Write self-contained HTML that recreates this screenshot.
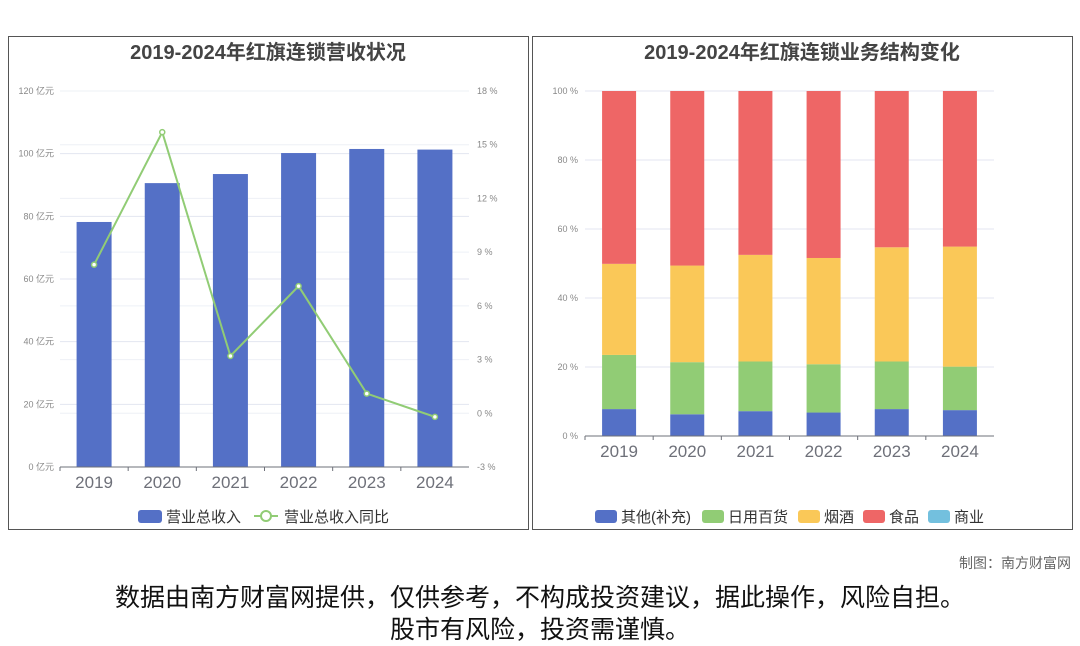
<!DOCTYPE html>
<html><head><meta charset="utf-8"><style>
body{margin:0;background:#fff;width:1080px;height:646px;overflow:hidden;font-family:"Liberation Sans","Noto Sans CJK SC",sans-serif}
svg{position:absolute;left:0;top:0}
.t{font-family:"Liberation Sans","Noto Sans CJK SC",sans-serif}
</style></head><body>
<svg id="s" width="1080" height="646">
<rect x="8.5" y="36.5" width="520" height="493" fill="none" stroke="#555"/>
<rect x="532.5" y="36.5" width="540" height="493" fill="none" stroke="#555"/>
<text class="t" x="268" y="59" text-anchor="middle" font-size="20" font-weight="bold" fill="#444">2019-2024年红旗连锁营收状况</text>
<text class="t" x="802" y="59" text-anchor="middle" font-size="20" font-weight="bold" fill="#444">2019-2024年红旗连锁业务结构变化</text>
<text class="t" x="1071" y="568" text-anchor="end" font-size="14" fill="#666">制图：南方财富网</text>
<text class="t" x="540" y="606" text-anchor="middle" font-size="25" fill="#111">数据由南方财富网提供，仅供参考，不构成投资建议，据此操作，风险自担。</text>
<text class="t" x="540" y="638" text-anchor="middle" font-size="25" fill="#111">股市有风险，投资需谨慎。</text>
<g id="L"></g><g id="R"></g>
</svg>
<script>
const years=['2019','2020','2021','2022','2023','2024'];
const revenue=[78.2,90.6,93.5,100.2,101.5,101.3];
const growth=[8.3,15.7,3.2,7.1,1.1,-0.2];
const leftTicks=[0,20,40,60,80,100,120];
const rightTicks=[-3,0,3,6,9,12,15,18];
const segOther=[7.8,6.3,7.2,6.8,7.8,7.5];
const segDaily=[15.7,15.1,14.4,14.0,13.8,12.6];
const segTobacco=[26.4,28.0,30.9,30.8,33.1,34.8];
const segFood=[50.1,50.6,47.5,48.4,45.3,45.1];
const segCommerce=[0,0,0,0,0,0];
const pctTicks=[0,20,40,60,80,100];
const NS='http://www.w3.org/2000/svg';
function mk(p,tag,a,txt){const e=document.createElementNS(NS,tag);for(const k in a)e.setAttribute(k,a[k]);if(txt!==undefined)e.textContent=txt;p.appendChild(e);return e;}
// Left chart
const L=document.getElementById('L');
const lx0=60,lx1=469,ly0=467,ly1=91;
const xb=i=>lx0+(i+0.5)*(lx1-lx0)/years.length;
const yL=v=>ly0-(v/120)*(ly0-ly1);
const yR=v=>ly0-((v+3)/21)*(ly0-ly1);
leftTicks.forEach(v=>{
 let g=mk(L,'line',{x1:lx0,x2:lx1,y1:yL(v),y2:yL(v),stroke:'#e3e6f0'});
 
 let t=mk(L,'text',{x:54,y:yL(v)+3,'text-anchor':'end','font-size':9,fill:'#888',class:'t'},v+' 亿元');
 
});
rightTicks.forEach(v=>{
 let g=mk(L,'line',{x1:lx0,x2:lx1,y1:yR(v),y2:yR(v),stroke:'#eef0f6'});
 
 let t=mk(L,'text',{x:477,y:yR(v)+3,'font-size':9,fill:'#888',class:'t'},v+' %');
 
});
const bw=35;
revenue.forEach((v,i)=>{
 let r=mk(L,'rect',{x:xb(i)-bw/2,y:yL(v),width:bw,height:ly0-yL(v),fill:'#5470c6'});
 
});
let ax=mk(L,'line',{x1:lx0,x2:lx1,y1:ly0,y2:ly0,stroke:'#6e7079'});

years.forEach((y,i)=>{
 let tk=mk(L,'line',{x1:lx0+i*(lx1-lx0)/6,x2:lx0+i*(lx1-lx0)/6,y1:ly0,y2:ly0+4,stroke:'#6e7079'});
 
 let t=mk(L,'text',{x:xb(i),y:488,'text-anchor':'middle','font-size':17,fill:'#6e7079',class:'t'},y);
 
});
let pl=mk(L,'polyline',{points:growth.map((v,i)=>xb(i)+','+yR(v)).join(' '),fill:'none',stroke:'#91cc75','stroke-width':2});

growth.forEach((v,i)=>{
 let c=mk(L,'circle',{cx:xb(i),cy:yR(v),r:2.5,fill:'#fff',stroke:'#91cc75','stroke-width':1.5});
 
});
let lg1=mk(L,'rect',{x:138,y:510,width:24,height:13,rx:3,fill:'#5470c6'});

let lt1=mk(L,'text',{x:166,y:522,'font-size':15,fill:'#333',class:'t'},'营业总收入');

let lg2=mk(L,'line',{x1:254,x2:278,y1:516,y2:516,stroke:'#91cc75','stroke-width':2});

let lg3=mk(L,'circle',{cx:266,cy:516,r:5,fill:'#fff',stroke:'#91cc75','stroke-width':2});

let lt2=mk(L,'text',{x:284,y:522,'font-size':15,fill:'#333',class:'t'},'营业总收入同比');

// Right chart
const R=document.getElementById('R');
const rx0=585,rx1=994,ry0=436,ry1=91;
const xr=i=>rx0+(i+0.5)*(rx1-rx0)/years.length;
const yP=v=>ry0-(v/100)*(ry0-ry1);
pctTicks.forEach(v=>{
 let g=mk(R,'line',{x1:rx0,x2:rx1,y1:yP(v),y2:yP(v),stroke:'#e3e6f0'});
 
 let t=mk(R,'text',{x:578,y:yP(v)+3,'text-anchor':'end','font-size':9,fill:'#888',class:'t'},v+' %');
 
});
const series=[[segOther,'#5470c6','other'],[segDaily,'#91cc75','daily-goods'],[segTobacco,'#fac858','tobacco-alcohol'],[segFood,'#ee6666','food'],[segCommerce,'#73c0de','commerce']];
years.forEach((y,i)=>{
 let base=0;
 series.forEach(s=>{
  const v=s[0][i];
  if(v>0){
   let r=mk(R,'rect',{x:xr(i)-17,y:yP(base+v),width:34,height:yP(base)-yP(base+v),fill:s[1]});
   
  }
  base+=v;
 });
});
let ax2=mk(R,'line',{x1:rx0,x2:rx1,y1:ry0,y2:ry0,stroke:'#6e7079'});

years.forEach((y,i)=>{
 let tk=mk(R,'line',{x1:rx0+i*(rx1-rx0)/6,x2:rx0+i*(rx1-rx0)/6,y1:ry0,y2:ry0+4,stroke:'#6e7079'});
 
 let t=mk(R,'text',{x:xr(i),y:457,'text-anchor':'middle','font-size':17,fill:'#6e7079',class:'t'},y);
 
});
const legNames=['其他(补充)','日用百货','烟酒','食品','商业'];
const legX=[595,702,798,863,928];
series.forEach((s,k)=>{
 let r=mk(R,'rect',{x:legX[k],y:510,width:22,height:13,rx:3,fill:s[1]});
 
 let t=mk(R,'text',{x:legX[k]+26,y:522,'font-size':15,fill:'#333',class:'t'},legNames[k]);
 
});
</script>
</body></html>
